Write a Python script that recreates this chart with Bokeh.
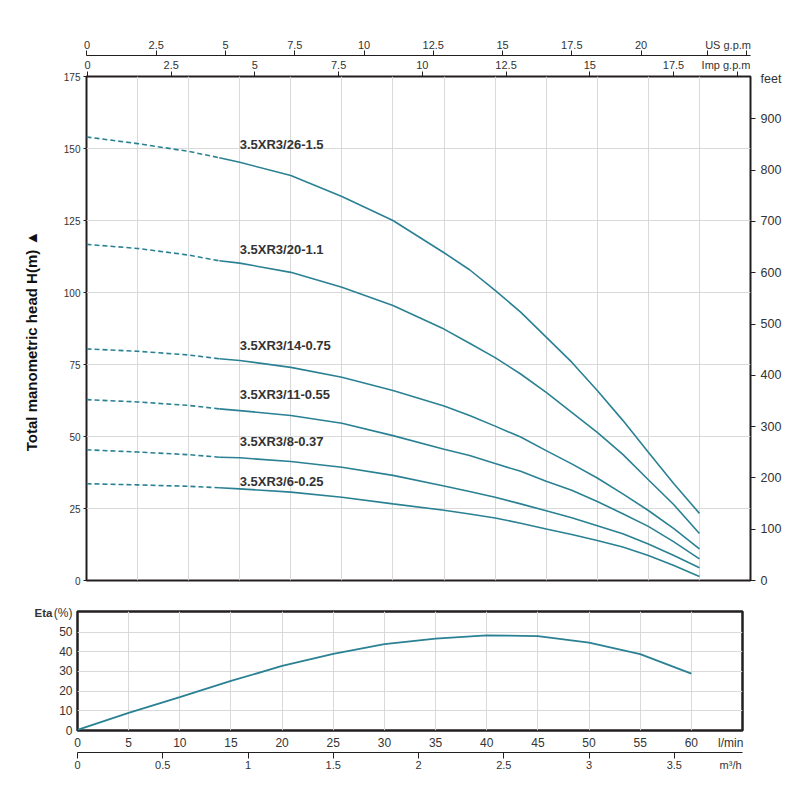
from bokeh.plotting import figure
from bokeh.models import Range1d, LinearAxis, FixedTicker, Grid
from bokeh.layouts import column, row
from bokeh.core.properties import value
from bokeh.embed import file_html
from bokeh.resources import INLINE

FONT = "Liberation Sans"
TEAL = "#2a8193"
DARK = "#231f20"
TXT = "#333333"
GRID = "#d9d9d9"

# ---------------- data ----------------
q_dash = [0, 5, 10, 13]                      # l/min (dashed part)
q_solid = [13, 15, 20, 25, 30, 35, 37.5, 40, 42.5, 45, 47.5, 50, 52.5, 55, 57.5, 60]  # l/min

models = ["3.5XR3/26-1.5", "3.5XR3/20-1.1", "3.5XR3/14-0.75",
          "3.5XR3/11-0.55", "3.5XR3/8-0.37", "3.5XR3/6-0.25"]

h26_dash = [154.0, 151.7, 149.0, 146.8]
h26_solid = [146.8, 145.2, 140.6, 133.3, 125.0, 113.8, 107.9, 100.7, 93.2, 84.5, 75.8, 66.0, 55.6, 44.5, 33.6, 23.3]
h20_dash = [116.7, 115.3, 113.0, 111.0]
h20_solid = [111.0, 110.2, 107.0, 101.8, 95.5, 87.3, 82.4, 77.4, 71.7, 65.3, 58.4, 51.4, 43.8, 35.0, 26.3, 16.3]
h14_dash = [80.4, 79.6, 78.3, 77.0]
h14_solid = [77.0, 76.4, 74.0, 70.6, 66.0, 60.6, 57.3, 53.6, 49.8, 45.1, 40.5, 35.6, 30.1, 24.3, 18.0, 11.0]
h11_dash = [62.8, 62.0, 60.8, 59.6]
h11_solid = [59.6, 59.0, 57.3, 54.6, 50.3, 45.6, 43.4, 40.6, 37.9, 34.5, 31.3, 27.4, 23.2, 18.8, 13.4, 7.5]
h8_dash = [45.4, 44.6, 43.7, 42.8]
h8_solid = [42.8, 42.6, 41.3, 39.3, 36.5, 32.8, 30.9, 28.9, 26.6, 24.2, 21.8, 19.0, 16.2, 12.7, 8.7, 4.4]
h6_dash = [33.6, 33.2, 32.7, 32.2]
h6_solid = [32.2, 31.8, 30.7, 28.9, 26.6, 24.4, 23.1, 21.7, 19.9, 17.9, 16.0, 13.9, 11.6, 8.7, 5.2, 1.4]

label_q = [15, 15, 15, 15, 15, 15]
label_h = [151.5, 115.0, 81.6, 64.6, 48.2, 34.4]

q_eta = [0, 5, 10, 15, 20, 25, 30, 35, 40, 45, 50, 55, 60]
eta = [0.3, 9.0, 17.0, 25.2, 32.8, 39.0, 43.9, 46.7, 48.4, 48.0, 44.7, 38.8, 28.9]

head_ticks = [0, 25, 50, 75, 100, 125, 150, 175]
feet_ticks = [0, 100, 200, 300, 400, 500, 600, 700, 800, 900]
feet_unit_pos = 978.6
us_ticks = [0, 2.5, 5, 7.5, 10, 12.5, 15, 17.5, 20]
us_end_ticks = [22.4, 23.8]
us_unit_pos = 23.14
imp_ticks = [0, 2.5, 5, 7.5, 10, 12.5, 15, 17.5]
imp_end_ticks = [19.4]
imp_unit_pos = 19.07
lmin_ticks = [0, 5, 10, 15, 20, 25, 30, 35, 40, 45, 50, 55, 60]
lmin_unit_pos = 63.85
m3h_ticks = [0, 0.5, 1, 1.5, 2, 2.5, 3, 3.5]
m3h_unit_pos = 3.83
eta_ticks = [0, 10, 20, 30, 40, 50]
eta_unit_pos = 59.5


def unit_axis(labels_at, unit_pos, unit_text, marks_at, size, standoff, tick_out,
              line_color=None, **kw):
    """Labels sit on (invisible) major ticks; visible marks are minor ticks."""
    return LinearAxis(
        ticker=FixedTicker(ticks=labels_at + [unit_pos], minor_ticks=marks_at),
        major_label_overrides={unit_pos: unit_text},
        axis_line_color=line_color, axis_line_width=1.2,
        major_tick_line_color=None, major_tick_out=tick_out, major_tick_in=0,
        minor_tick_line_color=DARK if marks_at else None,
        minor_tick_out=tick_out, minor_tick_in=0, minor_tick_line_width=1,
        major_label_standoff=standoff, major_label_text_font=FONT,
        major_label_text_font_size=size, major_label_text_color=TXT, **kw)


# ---------------- top chart ----------------
p = figure(x_range=Range1d(0, 65), y_range=Range1d(0, 175),
           x_axis_location=None, y_axis_location="left",
           frame_width=664, frame_height=504,
           min_border_left=86, min_border_right=42, min_border_top=76, min_border_bottom=10,
           output_backend="svg", toolbar_location=None)
p.extra_x_ranges = {"us": Range1d(-0.018, 23.95), "imp": Range1d(-0.03, 19.8)}
p.extra_y_ranges = {"feet": Range1d(0, 982.5)}
p.grid.visible = False
p.outline_line_color = DARK
p.outline_line_width = 2
p.outline_line_alpha = 1

p.add_layout(Grid(dimension=0, ticker=FixedTicker(ticks=lmin_ticks[1:]),
                  grid_line_color=GRID, grid_line_width=1))
p.add_layout(Grid(dimension=1, ticker=FixedTicker(ticks=head_ticks[1:-1]),
                  grid_line_color=GRID, grid_line_width=1))

ya = p.yaxis[0]
ya.ticker = FixedTicker(ticks=head_ticks)
ya.axis_line_color = None
ya.major_tick_out = 3
ya.major_tick_in = 0
ya.major_tick_line_color = DARK
ya.minor_tick_line_color = None
ya.major_label_standoff = 3
ya.major_label_text_font = FONT
ya.major_label_text_font_size = "10px"
ya.major_label_text_color = TXT
ya.axis_label = "Total manometric head H(m)       \u25b2"
ya.axis_label_text_font = FONT
ya.axis_label_text_font_style = "bold"
ya.axis_label_text_font_size = "15px"
ya.axis_label_text_color = "#111111"
ya.axis_label_standoff = 21

p.add_layout(unit_axis(feet_ticks, feet_unit_pos, "feet", feet_ticks, "12.5px", 5, 5,
                       y_range_name="feet"), "right")
p.add_layout(unit_axis(imp_ticks, imp_unit_pos, "Imp g.p.m", imp_ticks + imp_end_ticks,
                       "11px", 1, 5, x_range_name="imp"), "above")
p.add_layout(unit_axis(us_ticks, us_unit_pos, "US g.p.m", us_ticks + us_end_ticks,
                       "11px", 0, 5, line_color=DARK, x_range_name="us"), "above")

for hd, hs in [(h26_dash, h26_solid), (h20_dash, h20_solid), (h14_dash, h14_solid),
               (h11_dash, h11_solid), (h8_dash, h8_solid), (h6_dash, h6_solid)]:
    p.line(q_dash, hd, line_color=TEAL, line_width=1.6, line_dash="5 3")
    p.line(q_solid, hs, line_color=TEAL, line_width=1.6)

p.text(x=label_q, y=label_h, text=models, text_font=value(FONT), text_font_style="bold",
       text_font_size="13px", text_baseline="middle", text_align="left", text_color=TXT)

# ---------------- bottom chart ----------------
p2 = figure(x_range=Range1d(0, 65), y_range=Range1d(0, 60.5),
            x_axis_location=None, y_axis_location=None,
            frame_width=665, frame_height=119,
            min_border_left=77, min_border_right=50, min_border_top=21, min_border_bottom=50,
            output_backend="svg", toolbar_location=None)
p2.extra_x_ranges = {"m3h": Range1d(0, 3.9)}
p2.grid.visible = False
p2.outline_line_color = DARK
p2.outline_line_width = 2.5
p2.outline_line_alpha = 1
p2.add_layout(Grid(dimension=0, ticker=FixedTicker(ticks=lmin_ticks[1:]),
                   grid_line_color=GRID, grid_line_width=1))
p2.add_layout(Grid(dimension=1, ticker=FixedTicker(ticks=eta_ticks[1:]),
                   grid_line_color=GRID, grid_line_width=1))

p2.add_layout(unit_axis(lmin_ticks, lmin_unit_pos, "l/min", [], "12px", 5, 0), "below")
p2.add_layout(unit_axis(m3h_ticks, m3h_unit_pos, "m\u00b3/h", m3h_ticks, "11px", 0, 6,
                        line_color=DARK, x_range_name="m3h"), "below")

p2.add_layout(unit_axis(eta_ticks, eta_unit_pos, "(%)", [], "12px", 5, 0), "left")
eta_name = LinearAxis(ticker=FixedTicker(ticks=[eta_unit_pos]), axis_line_color=None,
                      major_label_overrides={eta_unit_pos: "Eta"},
                      major_tick_line_color=None, minor_tick_line_color=None,
                      major_tick_out=0, major_tick_in=0, major_label_standoff=-2,
                      major_label_text_font=FONT, major_label_text_font_size="11.5px",
                      major_label_text_font_style="bold", major_label_text_color=TXT)
p2.add_layout(eta_name, "left")

p2.line(q_eta, eta, line_color=TEAL, line_width=1.8)

layout = column(p, row(p2), spacing=0)
open("out.html", "w").write(file_html(layout, INLINE))
